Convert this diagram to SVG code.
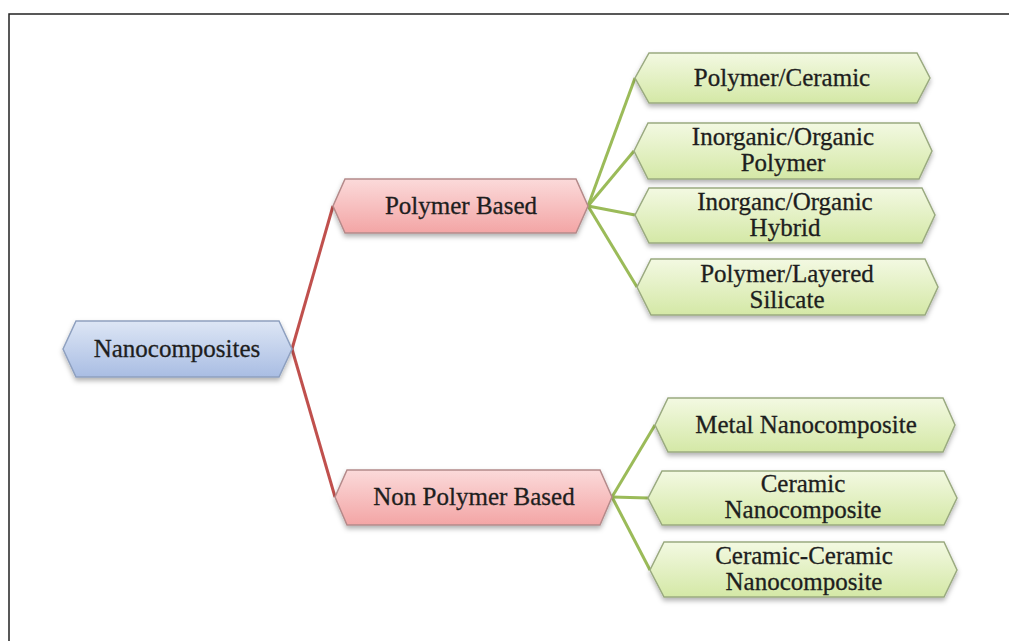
<svg xmlns="http://www.w3.org/2000/svg" width="1009" height="641" viewBox="0 0 1009 641">
  <defs>
    <linearGradient id="gBlue" x1="0" y1="0" x2="0" y2="1">
      <stop offset="0" stop-color="#dde6f5"/>
      <stop offset="1" stop-color="#a9bde3"/>
    </linearGradient>
    <linearGradient id="gPink" x1="0" y1="0" x2="0" y2="1">
      <stop offset="0" stop-color="#fbdada"/>
      <stop offset="1" stop-color="#f3a5a5"/>
    </linearGradient>
    <linearGradient id="gGreen" x1="0" y1="0" x2="0" y2="1">
      <stop offset="0" stop-color="#f3f9e2"/>
      <stop offset="1" stop-color="#d4e8a6"/>
    </linearGradient>
    <filter id="sh" x="-10%" y="-20%" width="120%" height="160%">
      <feDropShadow dx="0" dy="3" stdDeviation="2.5" flood-color="#000" flood-opacity="0.3"/>
    </filter>
  </defs>
  <style>
    .blue{fill:url(#gBlue);stroke:#8ea0bf;stroke-width:1.5;filter:url(#sh)}
    .pink{fill:url(#gPink);stroke:#b48a8a;stroke-width:1.5;filter:url(#sh)}
    .green{fill:url(#gGreen);stroke:#9aaa80;stroke-width:1.5;filter:url(#sh)}
    .t{font-family:"Liberation Serif","Times New Roman",serif;font-size:25px;fill:#1e1e1e;stroke:#1e1e1e;stroke-width:0.3;text-anchor:middle}
    .red{stroke:#c0504d;stroke-width:3;fill:none}
    .grn{stroke:#9bbb59;stroke-width:3;fill:none}
  </style>
  <rect width="1009" height="641" fill="#ffffff"/>
  <path d="M9 641 V14 H1009" fill="none" stroke="#222" stroke-width="1.5"/>

  <g id="connectors">
    <path class="red" d="M292 349 L333 206"/>
    <path class="red" d="M292 349 L335 497"/>
    <path class="grn" d="M588 206 L635 78"/>
    <path class="grn" d="M588 206 L634 151"/>
    <path class="grn" d="M588 206 L635 215"/>
    <path class="grn" d="M588 206 L637 287"/>
    <path class="grn" d="M612 497 L655 425"/>
    <path class="grn" d="M612 497 L648 498"/>
    <path class="grn" d="M612 497 L650 570"/>
  </g>

  <g id="nanocomposites">
    <path class="blue" d="M63 349 L76 321 L279 321 L292 349 L279 377 L76 377 Z"/>
    <text class="t" x="177" y="357">Nanocomposites</text>
  </g>
  <g id="polymer-based">
    <path class="pink" d="M333 206 L345 179 L576 179 L588 206 L576 233 L345 233 Z"/>
    <text class="t" x="461" y="214">Polymer Based</text>
  </g>
  <g id="non-polymer-based">
    <path class="pink" d="M335 497 L347 470 L600 470 L612 497 L600 525 L347 525 Z"/>
    <text class="t" x="474" y="505">Non Polymer Based</text>
  </g>

  <g id="polymer-ceramic">
    <path class="green" d="M635 78 L649 53 L917 53 L930 78 L917 103 L649 103 Z"/>
    <text class="t" x="782" y="86">Polymer/Ceramic</text>
  </g>
  <g id="inorganic-organic-polymer">
    <path class="green" d="M634 151 L648 123 L919 123 L932 151 L919 179 L648 179 Z"/>
    <text class="t" x="783" y="145">Inorganic/Organic</text>
    <text class="t" x="783" y="171">Polymer</text>
  </g>
  <g id="inorganic-organic-hybrid">
    <path class="green" d="M635 215 L649 188 L922 188 L935 215 L922 243 L649 243 Z"/>
    <text class="t" x="785" y="210">Inorganc/Organic</text>
    <text class="t" x="785" y="236">Hybrid</text>
  </g>
  <g id="polymer-layered-silicate">
    <path class="green" d="M637 287 L651 259 L925 259 L938 287 L925 315 L651 315 Z"/>
    <text class="t" x="787" y="282">Polymer/Layered</text>
    <text class="t" x="787" y="308">Silicate</text>
  </g>

  <g id="metal-nanocomposite">
    <path class="green" d="M655 425 L668 398 L943 398 L955 425 L943 452 L668 452 Z"/>
    <text class="t" x="806" y="433">Metal Nanocomposite</text>
  </g>
  <g id="ceramic-nanocomposite">
    <path class="green" d="M648 498 L662 471 L944 471 L957 498 L944 525 L662 525 Z"/>
    <text class="t" x="803" y="492">Ceramic</text>
    <text class="t" x="803" y="518">Nanocomposite</text>
  </g>
  <g id="ceramic-ceramic-nanocomposite">
    <path class="green" d="M650 570 L664 542 L944 542 L957 570 L944 597 L664 597 Z"/>
    <text class="t" x="804" y="564">Ceramic-Ceramic</text>
    <text class="t" x="804" y="590">Nanocomposite</text>
  </g>
</svg>
